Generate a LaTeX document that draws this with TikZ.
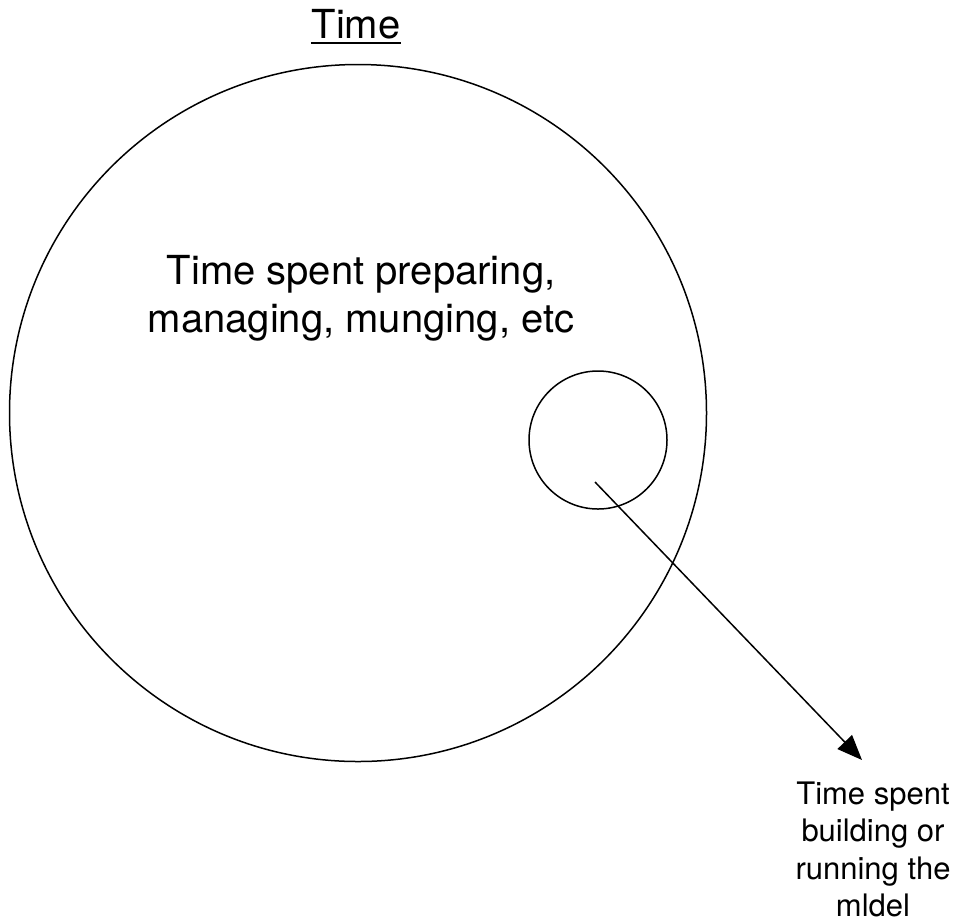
\documentclass[tikz,border=0pt]{standalone}
\usepackage{fontspec}
\setmainfont{TeX Gyre Heros}
\usetikzlibrary{arrows.meta}

\begin{document}
\begin{tikzpicture}[x=1pt, y=-1pt, every node/.style={align=center, inner sep=0pt}, line width=1.5pt]
\useasboundingbox (0,0) rectangle (957,922);
\node[font=\fontsize{40}{48}\selectfont] at (356,24) (title) {Time};
\draw[line width=2.4pt] ([yshift=-5pt]title.base west) -- ([yshift=-5pt]title.base east);
\node[draw, circle, minimum size=697pt] at (358,413) (time) {};
\node[font=\fontsize{40}{48}\selectfont] at (361,298) (prep) {Time spent preparing,\\managing, munging, etc};
\node[draw, circle, minimum size=138pt] at (598,440) (model) {};
\node[font=\fontsize{31}{37.5}\selectfont] at (873,849.5) (build) {Time spent\\building or\\running the\\mldel};

\coordinate (from) at (595,482);
\coordinate (tip) at (862,760);
\draw[-{Triangle[length=25pt, width=20pt]}] (from) -- (tip);
\end{tikzpicture}
\end{document}
